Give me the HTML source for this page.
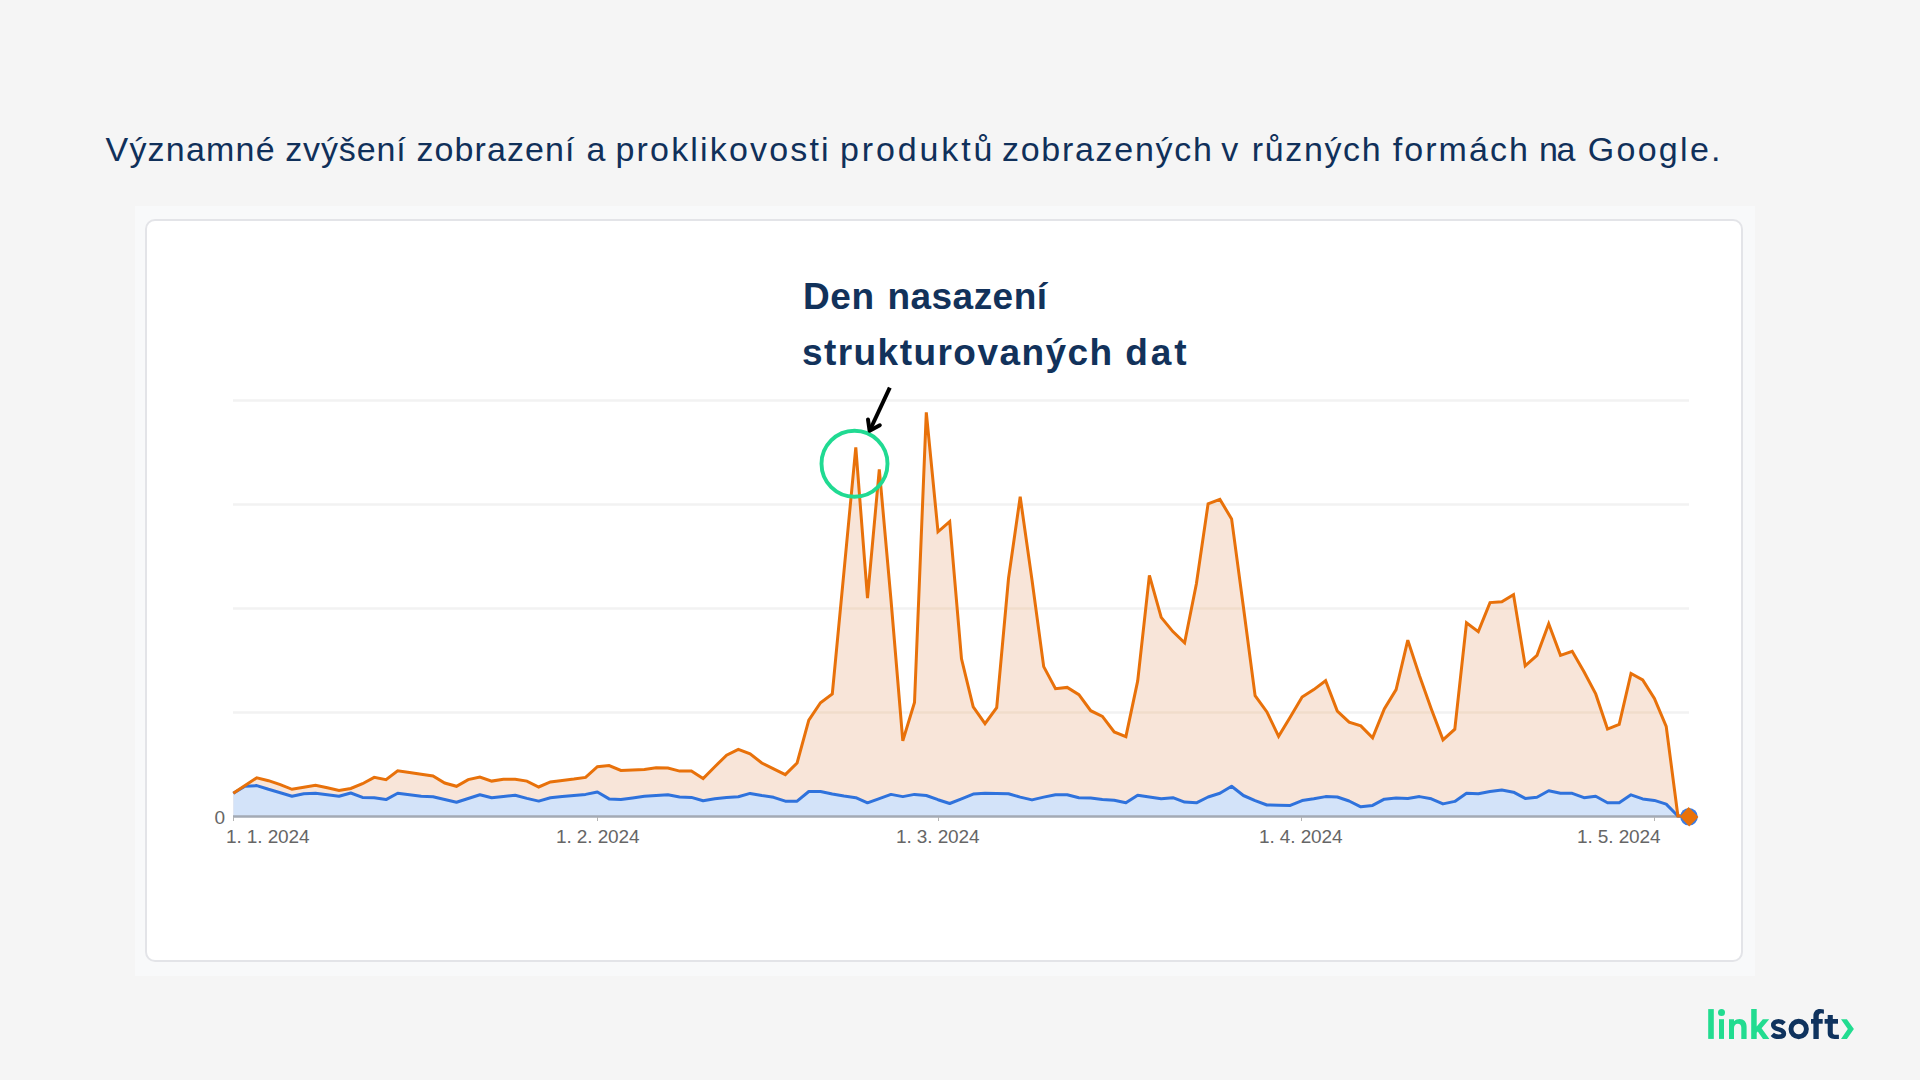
<!DOCTYPE html>
<html lang="cs">
<head>
<meta charset="utf-8">
<title>Linksoft – strukturovaná data</title>
<style>
  html, body { margin: 0; padding: 0; }
  body {
    width: 1920px; height: 1080px; overflow: hidden; position: relative;
    background: #f5f5f5;
    font-family: "Liberation Sans", sans-serif;
  }
  .title {
    position: absolute; left: 0; top: 127px; width: 1920px; height: 44px;
    font-size: 34px; line-height: 44px; color: #10305a;
    white-space: nowrap; margin: 0; font-weight: normal;
  }
  .title span, .note span { position: absolute; top: 0; white-space: nowrap; }
  .panel {
    position: absolute; left: 135px; top: 206px; width: 1620px; height: 770px;
    background: #f8f9fa;
  }
  .card {
    position: absolute; left: 145px; top: 219px; width: 1594px; height: 739px;
    border: 2px solid #e3e4e8; border-radius: 10px; background: #ffffff;
  }
  .note {
    position: absolute; left: 0; top: 269.4px; width: 1920px; height: 112px;
    font-size: 37px; line-height: 55.6px; font-weight: bold; color: #12325b;
    white-space: nowrap;
  }
  .lbl {
    position: absolute; font-size: 19px; line-height: 22px; color: #666666; letter-spacing: -0.1px; white-space: nowrap;
  }
  svg.chart { position: absolute; left: 0; top: 0; }
  .logo { position: absolute; left: 0; top: 0; }
</style>
</head>
<body>
  <h1 class="title"><span style="left:105.5px;letter-spacing:1.217px">Významné</span><span style="left:285.25px;letter-spacing:0.864px">zvýšení</span><span style="left:416.5px;letter-spacing:1.079px">zobrazení</span><span style="left:586.5px;letter-spacing:0px">a</span><span style="left:615.5px;letter-spacing:2.166px">proklikovosti</span><span style="left:840px;letter-spacing:2.871px">produktů</span><span style="left:1002px;letter-spacing:1.713px">zobrazených</span><span style="left:1221.25px;letter-spacing:0px">v</span><span style="left:1251.75px;letter-spacing:1.643px">různých</span><span style="left:1392.8px;letter-spacing:2.048px">formách</span><span style="left:1539px;letter-spacing:-1.309px">na</span><span style="left:1587.75px;letter-spacing:2.286px">Google.</span></h1>
  <div class="panel"></div>
  <div class="card"></div>

  <svg class="chart" width="1920" height="1080" viewBox="0 0 1920 1080">
    <g stroke="#f2f2f2" stroke-width="2.5">
      <line x1="233" y1="400.5" x2="1689" y2="400.5"/>
      <line x1="233" y1="504.5" x2="1689" y2="504.5"/>
      <line x1="233" y1="608.5" x2="1689" y2="608.5"/>
      <line x1="233" y1="712.5" x2="1689" y2="712.5"/>
    </g>
    <defs><clipPath id="oclip"><path d="M233.3,816.5 L233.3,793.3 L245.0,785.5 L256.8,777.8 L268.5,780.7 L280.3,784.6 L292.0,789.3 L303.8,787.3 L315.5,785.2 L327.3,787.7 L339.0,790.4 L350.8,788.5 L362.5,783.7 L374.2,777.4 L386.0,779.6 L397.7,770.7 L409.5,772.4 L421.2,774.2 L433.0,776.0 L444.7,783.0 L456.5,786.3 L468.2,779.6 L479.9,777.0 L491.7,781.1 L503.4,779.3 L515.2,779.3 L526.9,781.1 L538.7,787.0 L550.4,781.9 L562.2,780.4 L573.9,779.1 L585.6,777.4 L597.4,766.7 L609.1,765.6 L620.9,770.4 L632.6,770.0 L644.4,769.6 L656.1,767.8 L667.9,768.1 L679.6,771.1 L691.4,771.1 L703.1,778.5 L714.8,766.7 L726.6,755.2 L738.3,749.3 L750.1,753.9 L761.8,763.0 L773.6,768.9 L785.3,774.6 L797.1,763.0 L808.8,720.2 L820.5,702.7 L832.3,694.0 L844.0,571.3 L855.8,447.3 L867.5,598.2 L879.3,469.4 L891.0,600.0 L902.8,740.9 L914.5,702.5 L926.3,412.3 L938.0,531.8 L949.7,521.5 L961.5,658.8 L973.2,706.8 L985.0,723.6 L996.7,707.6 L1008.5,578.5 L1020.2,496.8 L1032.0,580.0 L1043.7,666.6 L1055.5,688.7 L1067.2,687.4 L1078.9,694.6 L1090.7,710.7 L1102.4,716.4 L1114.2,732.0 L1125.9,736.6 L1137.7,680.9 L1149.4,575.4 L1161.2,617.4 L1172.9,631.6 L1184.6,642.8 L1196.4,583.7 L1208.1,503.8 L1219.9,499.4 L1231.6,518.9 L1243.4,607.0 L1255.1,695.6 L1266.9,711.9 L1278.6,736.3 L1290.3,717.0 L1302.1,697.0 L1313.8,689.6 L1325.6,680.7 L1337.3,711.1 L1349.1,722.2 L1360.8,725.9 L1372.6,737.8 L1384.3,708.9 L1396.1,689.6 L1407.8,640.2 L1419.5,675.7 L1431.3,708.9 L1443.0,739.8 L1454.8,729.2 L1466.5,622.8 L1478.3,631.6 L1490.0,602.6 L1501.8,601.7 L1513.5,594.6 L1525.2,665.9 L1537.0,655.3 L1548.7,623.7 L1560.5,655.3 L1572.2,651.3 L1584.0,671.7 L1595.7,693.9 L1607.5,729.1 L1619.2,724.4 L1631.0,673.5 L1642.7,680.0 L1654.4,698.5 L1666.2,726.3 L1677.9,816.0 L1689.7,816.0 L1689.7,816.5 Z"/></clipPath></defs>
    <path d="M233.3,816.5 L233.3,793.3 L245.0,785.5 L256.8,777.8 L268.5,780.7 L280.3,784.6 L292.0,789.3 L303.8,787.3 L315.5,785.2 L327.3,787.7 L339.0,790.4 L350.8,788.5 L362.5,783.7 L374.2,777.4 L386.0,779.6 L397.7,770.7 L409.5,772.4 L421.2,774.2 L433.0,776.0 L444.7,783.0 L456.5,786.3 L468.2,779.6 L479.9,777.0 L491.7,781.1 L503.4,779.3 L515.2,779.3 L526.9,781.1 L538.7,787.0 L550.4,781.9 L562.2,780.4 L573.9,779.1 L585.6,777.4 L597.4,766.7 L609.1,765.6 L620.9,770.4 L632.6,770.0 L644.4,769.6 L656.1,767.8 L667.9,768.1 L679.6,771.1 L691.4,771.1 L703.1,778.5 L714.8,766.7 L726.6,755.2 L738.3,749.3 L750.1,753.9 L761.8,763.0 L773.6,768.9 L785.3,774.6 L797.1,763.0 L808.8,720.2 L820.5,702.7 L832.3,694.0 L844.0,571.3 L855.8,447.3 L867.5,598.2 L879.3,469.4 L891.0,600.0 L902.8,740.9 L914.5,702.5 L926.3,412.3 L938.0,531.8 L949.7,521.5 L961.5,658.8 L973.2,706.8 L985.0,723.6 L996.7,707.6 L1008.5,578.5 L1020.2,496.8 L1032.0,580.0 L1043.7,666.6 L1055.5,688.7 L1067.2,687.4 L1078.9,694.6 L1090.7,710.7 L1102.4,716.4 L1114.2,732.0 L1125.9,736.6 L1137.7,680.9 L1149.4,575.4 L1161.2,617.4 L1172.9,631.6 L1184.6,642.8 L1196.4,583.7 L1208.1,503.8 L1219.9,499.4 L1231.6,518.9 L1243.4,607.0 L1255.1,695.6 L1266.9,711.9 L1278.6,736.3 L1290.3,717.0 L1302.1,697.0 L1313.8,689.6 L1325.6,680.7 L1337.3,711.1 L1349.1,722.2 L1360.8,725.9 L1372.6,737.8 L1384.3,708.9 L1396.1,689.6 L1407.8,640.2 L1419.5,675.7 L1431.3,708.9 L1443.0,739.8 L1454.8,729.2 L1466.5,622.8 L1478.3,631.6 L1490.0,602.6 L1501.8,601.7 L1513.5,594.6 L1525.2,665.9 L1537.0,655.3 L1548.7,623.7 L1560.5,655.3 L1572.2,651.3 L1584.0,671.7 L1595.7,693.9 L1607.5,729.1 L1619.2,724.4 L1631.0,673.5 L1642.7,680.0 L1654.4,698.5 L1666.2,726.3 L1677.9,816.0 L1689.7,816.0 L1689.7,816.5 Z" fill="#f8e5d9"/>
    <g stroke="#f1dccb" stroke-width="2.5" clip-path="url(#oclip)">
      <line x1="233" y1="504.5" x2="1689" y2="504.5"/>
      <line x1="233" y1="608.5" x2="1689" y2="608.5"/>
      <line x1="233" y1="712.5" x2="1689" y2="712.5"/>
    </g>
    <path d="M233.3,816.5 L233.3,793.3 L245.0,786.3 L256.8,785.6 L268.5,789.3 L280.3,792.7 L292.0,796.3 L303.8,793.7 L315.5,793.3 L327.3,794.7 L339.0,796.3 L350.8,793.0 L362.5,797.4 L374.2,797.8 L386.0,799.6 L397.7,793.3 L409.5,794.8 L421.2,796.3 L433.0,796.7 L444.7,799.5 L456.5,802.2 L468.2,798.5 L479.9,794.8 L491.7,797.8 L503.4,796.4 L515.2,795.2 L526.9,798.4 L538.7,801.1 L550.4,797.8 L562.2,796.6 L573.9,795.5 L585.6,794.4 L597.4,792.0 L609.1,798.9 L620.9,799.6 L632.6,797.9 L644.4,796.3 L656.1,795.6 L667.9,794.8 L679.6,797.0 L691.4,797.4 L703.1,800.7 L714.8,798.8 L726.6,797.4 L738.3,796.7 L750.1,793.4 L761.8,795.5 L773.6,797.3 L785.3,801.2 L797.1,801.2 L808.8,791.5 L820.5,791.5 L832.3,794.0 L844.0,796.1 L855.8,797.7 L867.5,802.8 L879.3,798.6 L891.0,794.4 L902.8,796.6 L914.5,794.4 L926.3,795.5 L938.0,799.7 L949.7,803.5 L961.5,798.8 L973.2,794.1 L985.0,793.3 L996.7,793.5 L1008.5,793.7 L1020.2,797.1 L1032.0,799.9 L1043.7,797.1 L1055.5,794.8 L1067.2,794.8 L1078.9,797.7 L1090.7,798.1 L1102.4,799.4 L1114.2,800.3 L1125.9,802.8 L1137.7,795.2 L1149.4,797.0 L1161.2,798.8 L1172.9,797.7 L1184.6,802.1 L1196.4,802.8 L1208.1,797.0 L1219.9,793.3 L1231.6,786.2 L1243.4,795.5 L1255.1,800.6 L1266.9,805.0 L1278.6,805.2 L1290.3,805.4 L1302.1,800.6 L1313.8,798.8 L1325.6,796.6 L1337.3,797.0 L1349.1,801.0 L1360.8,806.8 L1372.6,805.4 L1384.3,799.2 L1396.1,798.1 L1407.8,798.4 L1419.5,796.6 L1431.3,798.8 L1443.0,803.9 L1454.8,801.4 L1466.5,793.3 L1478.3,793.7 L1490.0,791.5 L1501.8,790.1 L1513.5,792.2 L1525.2,798.4 L1537.0,797.3 L1548.7,790.8 L1560.5,793.3 L1572.2,793.3 L1584.0,797.7 L1595.7,796.3 L1607.5,802.8 L1619.2,802.8 L1631.0,794.8 L1642.7,798.9 L1654.4,800.4 L1666.2,804.1 L1677.9,816.0 L1689.7,816.0 L1689.7,816.5 Z" fill="#d3e3f9"/>
    <line x1="233" y1="816.5" x2="1689" y2="816.5" stroke="#a3aab4" stroke-width="2.6"/>
    <g stroke="#b4b4b4" stroke-width="1">
      <line x1="233.5" y1="817" x2="233.5" y2="821"/>
      <line x1="597.5" y1="817" x2="597.5" y2="821"/>
      <line x1="938.5" y1="817" x2="938.5" y2="821"/>
      <line x1="1301.5" y1="817" x2="1301.5" y2="821"/>
      <line x1="1654.5" y1="817" x2="1654.5" y2="821"/>
    </g>
    <polyline points="233.3,793.3 245.0,786.3 256.8,785.6 268.5,789.3 280.3,792.7 292.0,796.3 303.8,793.7 315.5,793.3 327.3,794.7 339.0,796.3 350.8,793.0 362.5,797.4 374.2,797.8 386.0,799.6 397.7,793.3 409.5,794.8 421.2,796.3 433.0,796.7 444.7,799.5 456.5,802.2 468.2,798.5 479.9,794.8 491.7,797.8 503.4,796.4 515.2,795.2 526.9,798.4 538.7,801.1 550.4,797.8 562.2,796.6 573.9,795.5 585.6,794.4 597.4,792.0 609.1,798.9 620.9,799.6 632.6,797.9 644.4,796.3 656.1,795.6 667.9,794.8 679.6,797.0 691.4,797.4 703.1,800.7 714.8,798.8 726.6,797.4 738.3,796.7 750.1,793.4 761.8,795.5 773.6,797.3 785.3,801.2 797.1,801.2 808.8,791.5 820.5,791.5 832.3,794.0 844.0,796.1 855.8,797.7 867.5,802.8 879.3,798.6 891.0,794.4 902.8,796.6 914.5,794.4 926.3,795.5 938.0,799.7 949.7,803.5 961.5,798.8 973.2,794.1 985.0,793.3 996.7,793.5 1008.5,793.7 1020.2,797.1 1032.0,799.9 1043.7,797.1 1055.5,794.8 1067.2,794.8 1078.9,797.7 1090.7,798.1 1102.4,799.4 1114.2,800.3 1125.9,802.8 1137.7,795.2 1149.4,797.0 1161.2,798.8 1172.9,797.7 1184.6,802.1 1196.4,802.8 1208.1,797.0 1219.9,793.3 1231.6,786.2 1243.4,795.5 1255.1,800.6 1266.9,805.0 1278.6,805.2 1290.3,805.4 1302.1,800.6 1313.8,798.8 1325.6,796.6 1337.3,797.0 1349.1,801.0 1360.8,806.8 1372.6,805.4 1384.3,799.2 1396.1,798.1 1407.8,798.4 1419.5,796.6 1431.3,798.8 1443.0,803.9 1454.8,801.4 1466.5,793.3 1478.3,793.7 1490.0,791.5 1501.8,790.1 1513.5,792.2 1525.2,798.4 1537.0,797.3 1548.7,790.8 1560.5,793.3 1572.2,793.3 1584.0,797.7 1595.7,796.3 1607.5,802.8 1619.2,802.8 1631.0,794.8 1642.7,798.9 1654.4,800.4 1666.2,804.1 1677.9,816.0 1689.7,816.0" fill="none" stroke="#2f72dc" stroke-width="3" stroke-linejoin="round"/>
    <polyline points="233.3,793.3 245.0,785.5 256.8,777.8 268.5,780.7 280.3,784.6 292.0,789.3 303.8,787.3 315.5,785.2 327.3,787.7 339.0,790.4 350.8,788.5 362.5,783.7 374.2,777.4 386.0,779.6 397.7,770.7 409.5,772.4 421.2,774.2 433.0,776.0 444.7,783.0 456.5,786.3 468.2,779.6 479.9,777.0 491.7,781.1 503.4,779.3 515.2,779.3 526.9,781.1 538.7,787.0 550.4,781.9 562.2,780.4 573.9,779.1 585.6,777.4 597.4,766.7 609.1,765.6 620.9,770.4 632.6,770.0 644.4,769.6 656.1,767.8 667.9,768.1 679.6,771.1 691.4,771.1 703.1,778.5 714.8,766.7 726.6,755.2 738.3,749.3 750.1,753.9 761.8,763.0 773.6,768.9 785.3,774.6 797.1,763.0 808.8,720.2 820.5,702.7 832.3,694.0 844.0,571.3 855.8,447.3 867.5,598.2 879.3,469.4 891.0,600.0 902.8,740.9 914.5,702.5 926.3,412.3 938.0,531.8 949.7,521.5 961.5,658.8 973.2,706.8 985.0,723.6 996.7,707.6 1008.5,578.5 1020.2,496.8 1032.0,580.0 1043.7,666.6 1055.5,688.7 1067.2,687.4 1078.9,694.6 1090.7,710.7 1102.4,716.4 1114.2,732.0 1125.9,736.6 1137.7,680.9 1149.4,575.4 1161.2,617.4 1172.9,631.6 1184.6,642.8 1196.4,583.7 1208.1,503.8 1219.9,499.4 1231.6,518.9 1243.4,607.0 1255.1,695.6 1266.9,711.9 1278.6,736.3 1290.3,717.0 1302.1,697.0 1313.8,689.6 1325.6,680.7 1337.3,711.1 1349.1,722.2 1360.8,725.9 1372.6,737.8 1384.3,708.9 1396.1,689.6 1407.8,640.2 1419.5,675.7 1431.3,708.9 1443.0,739.8 1454.8,729.2 1466.5,622.8 1478.3,631.6 1490.0,602.6 1501.8,601.7 1513.5,594.6 1525.2,665.9 1537.0,655.3 1548.7,623.7 1560.5,655.3 1572.2,651.3 1584.0,671.7 1595.7,693.9 1607.5,729.1 1619.2,724.4 1631.0,673.5 1642.7,680.0 1654.4,698.5 1666.2,726.3 1677.9,816.0 1689.7,816.0" fill="none" stroke="#e8710a" stroke-width="3" stroke-linejoin="miter" stroke-miterlimit="3"/>
    <circle cx="1689" cy="816.7" r="8.8" fill="#3a7be3"/>
    <path d="M1688.6,806.9 L1698.4,816.9 L1689.2,826.4 L1680,816.6 Z" fill="#e8710a"/>
    <!-- annotation circle + arrow -->
    <circle cx="854.5" cy="463.8" r="33" fill="none" stroke="#20da92" stroke-width="3.9"/>
    <g stroke="#000" stroke-width="4" stroke-linecap="round" stroke-linejoin="round" fill="none">
      <line x1="889.8" y1="387.6" x2="870" y2="430" stroke-linecap="butt"/>
      <polyline points="868,419.5 869.6,430.8 879.8,425.3"/>
    </g>
  </svg>

  <div class="note"><span style="left:803px;top:0px;letter-spacing:0.601px">Den</span><span style="left:887.4px;top:0px;letter-spacing:0.477px">nasazení</span><span style="left:801.9px;top:55.6px;letter-spacing:1.456px">strukturovaných</span><span style="left:1125.25px;top:55.6px;letter-spacing:2.911px">dat</span></div>

  <div class="lbl" style="left:214.5px; top:806.8px;">0</div>
  <div class="lbl" style="left:226px; top:826px;">1. 1. 2024</div>
  <div class="lbl" style="left:556px; top:826px;">1. 2. 2024</div>
  <div class="lbl" style="left:896px; top:826px;">1. 3. 2024</div>
  <div class="lbl" style="left:1259px; top:826px;">1. 4. 2024</div>
  <div class="lbl" style="left:1577px; top:826px;">1. 5. 2024</div>

  <svg class="logo" width="1920" height="1080" viewBox="0 0 1920 1080">
    <g fill="#22dc90">
      <rect x="1708.2" y="1009.1" width="5.6" height="29.8"/>
      <rect x="1719" y="1019.2" width="5" height="19.7"/>
      <circle cx="1721.5" cy="1012.4" r="3.5"/>
      <path d="M1729,1038.9 L1729,1019.2 L1734,1019.2 L1734,1021.3 C1735.5,1019.8 1737.5,1019 1739.5,1019 C1744,1019 1746.6,1021.8 1746.6,1026.8 L1746.6,1038.9 L1741.3,1038.9 L1741.3,1027.8 C1741.3,1025.2 1740,1023.7 1737.8,1023.7 C1735.5,1023.7 1734,1025.4 1734,1028 L1734,1038.9 Z"/>
      <path d="M1751.2,1009.1 H1756.7 V1026.5 L1762.8,1019.2 H1769.2 L1761.6,1028.2 L1769.4,1038.9 H1763 L1757.8,1031.5 L1756.7,1032.8 V1038.9 H1751.2 Z"/>
      <path d="M1841,1019.2 L1846.9,1019.2 L1853.9,1029.1 L1846.9,1038.9 L1841,1038.9 L1847.8,1029.1 Z"/>
    </g>
    <g fill="#0f335e">
      <path d="M1784.2,1023.6 C1782.5,1021.9 1780.6,1021.3 1778.6,1021.3 C1775.3,1021.3 1773.3,1023 1773.3,1025.2 C1773.3,1027.8 1776,1028.6 1778.8,1029.4 C1781.8,1030.2 1783.9,1031.3 1783.9,1033.7 C1783.9,1035.9 1781.7,1036.8 1778.6,1036.8 C1776,1036.8 1773.9,1035.9 1772.3,1034.3" fill="none" stroke="#0f335e" stroke-width="4.6"/>
      <circle cx="1798.7" cy="1029" r="7.7" fill="none" stroke="#0f335e" stroke-width="4.9"/>
      <path d="M1813.4,1038.9 V1016 C1813.4,1011.5 1816,1008.9 1820,1008.9 C1821.6,1008.9 1822.9,1009.2 1823.9,1009.6 V1013.7 C1823.1,1013.4 1822.3,1013.2 1821.3,1013.2 C1819.6,1013.2 1818.75,1014.3 1818.75,1016.3 V1038.9 Z"/>
      <rect x="1811" y="1019" width="11.7" height="4.7"/>
      <path d="M1827.7,1015 H1832.8 V1032.6 C1832.8,1034 1833.5,1034.7 1835,1034.7 H1838.9 V1038.9 H1834.5 C1830,1038.9 1827.7,1036.8 1827.7,1032.8 Z"/>
      <rect x="1824.6" y="1019" width="13.4" height="4.7"/>
    </g>
  </svg>
</body>
</html>
